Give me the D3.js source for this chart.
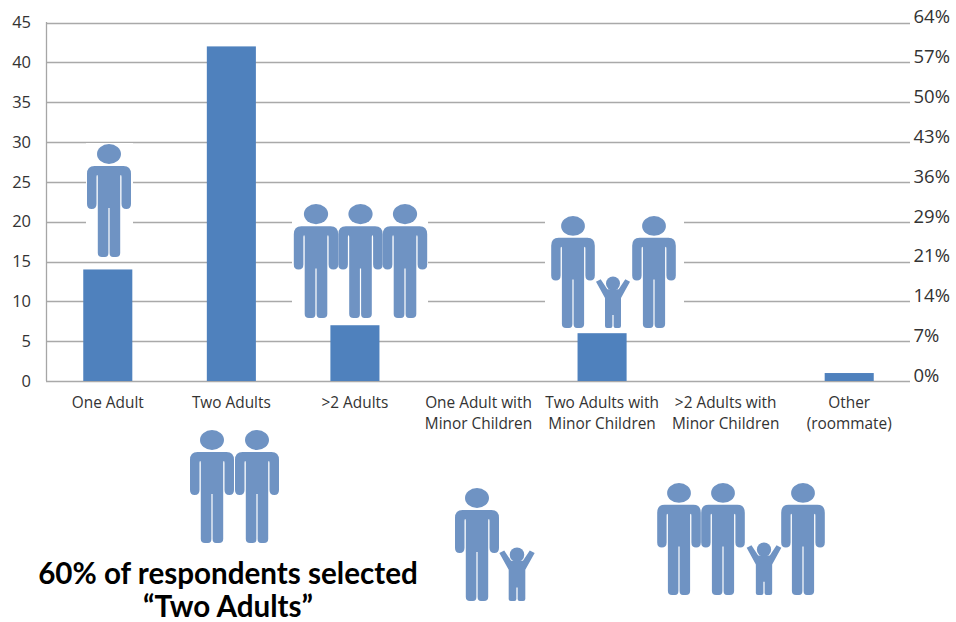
<!DOCTYPE html>
<html><head><meta charset="utf-8">
<script src="https://cdn.jsdelivr.net/npm/d3@7"></script>
<style>html,body{margin:0;padding:0;background:#fff}svg{display:block}</style>
</head><body><svg id="c" width="956" height="622"></svg>
<script>
const categories = ["One Adult","Two Adults",">2 Adults","One Adult with\nMinor Children","Two Adults with\nMinor Children",">2 Adults with\nMinor Children","Other\n(roommate)"];
const counts = [14,42,7,0,6,0,1];
const countTicks = [0,5,10,15,20,25,30,35,40,45];
const pctLabels = ["0%","7%","14%","21%","29%","36%","43%","50%","57%","64%"];
const headline = ["60% of respondents selected","“Two Adults”"];

const svg = d3.select("#c");
const x = d3.scaleBand().domain(categories).range([46,911]).paddingInner(0.603).paddingOuter(0.3015);
const y = d3.scaleLinear().domain([0,45]).range([381,22.5]);

// grid
svg.append("g").selectAll("line").data(countTicks).join("line")
  .attr("x1",46).attr("x2",910).attr("y1",d=>Math.round(y(d))+.5).attr("y2",d=>Math.round(y(d))+.5)
  .attr("stroke","#a9a9a9").attr("stroke-width",1.3);
svg.append("line").attr("x1",46.5).attr("x2",46.5).attr("y1",22).attr("y2",381).attr("stroke","#a6a6a6").attr("stroke-width",1.3);

// left axis
const gl = svg.append("g").attr("transform","translate(46,0)").call(d3.axisLeft(y).tickValues(countTicks).tickSize(0).tickPadding(15));
gl.select(".domain").remove();
gl.selectAll("text").attr("font-family","'Open Sans',sans-serif").attr("font-size",16.5).attr("fill","#333");

// right axis
const gr = svg.append("g").attr("transform","translate(913.5,-5.5)").call(d3.axisRight(y).tickValues(countTicks).tickSize(0).tickPadding(0).tickFormat((d,i)=>pctLabels[i]));
gr.select(".domain").remove();
gr.selectAll("text").attr("font-family","'Open Sans',sans-serif").attr("font-size",18.5).attr("fill","#333");

// bars
svg.append("g").selectAll("rect").data(categories).join("rect")
  .attr("x",d=>x(d)).attr("width",x.bandwidth())
  .attr("y",(d,i)=>y(counts[i])).attr("height",(d,i)=>y(0)-y(counts[i]))
  .attr("fill","#4f81bd");

// category labels
const cat = svg.append("g").selectAll("text").data(categories).join("text")
  .attr("text-anchor","middle").attr("font-family","'Open Sans',sans-serif").attr("font-size",15.4).attr("fill","#333");
cat.each(function(d){
  const t = d3.select(this);
  d.split("\n").forEach((s,i)=>t.append("tspan").attr("x",x(d)+x.bandwidth()/2).attr("y",408+i*21).text(s));
});

// pictograms (unit shapes, placed by scale)
const adultPath = "M-14.5,22 H14.5 Q22,22 22,30 V60 Q22,65 17.3,65 Q12.5,65 12.5,60 V33 Q12.5,31 11.8,31 Q11.2,31 11.2,33 V109 Q11.2,113 7,113 H4 Q.6,113 .6,109 V64 H-.6 V109 Q-.6,113 -4,113 H-7 Q-11.2,113 -11.2,109 V33 Q-11.2,31 -11.8,31 Q-12.5,31 -12.5,33 V60 Q-12.5,65 -17.3,65 Q-22,65 -22,60 V30 Q-22,22 -14.5,22 Z";
const childPath = "M-12.3,2.3 L-17,4.7 L-8,21 V49 Q-8,51 -6,51 H-2.5 Q-.6,51 -.6,49 V38 H.6 V49 Q.6,51 2.5,51 H6 Q8,51 8,49 V21 L17,4.7 L12.3,2.3 L5.7,12.3 H-5.7 Z";
const picColor = "#6f93c3";
const pics = svg.append("g");
function adult(cx,top,bottom){
  const k=(bottom-top)/113;
  const g=pics.append("g").attr("transform",`translate(${cx},${top}) scale(${k})`).attr("fill",picColor);
  g.append("ellipse").attr("cx",0).attr("cy",10).attr("rx",12).attr("ry",10);
  g.append("path").attr("d",adultPath);
}
function child(cx,top,bottom){
  const k=(bottom-top)/51;
  const g=pics.append("g").attr("transform",`translate(${cx},${top}) scale(${k})`).attr("fill",picColor);
  g.append("circle").attr("cx",0).attr("cy",6.5).attr("r",7);
  g.append("path").attr("d",childPath);
}
function mask(x0,y0,x1,y1){pics.append("rect").attr("x",x0).attr("y",y0).attr("width",x1-x0).attr("height",y1-y0).attr("fill","#fff");}

mask(86,143,133,259); adult(109,144,257);
mask(292,200,428,320); [316,360.5,405].forEach(c=>adult(c,204,318));
mask(545,215,684,331); adult(573,216,328); adult(654,216,328); child(613,277,328);
adult(212,430,543); adult(257,430,543);
adult(477,488,601); child(517,548,601);
adult(679,483,595); adult(723,483,595); adult(803,483,595); child(764,543,595);

// headline
svg.append("g").selectAll("text").data(headline).join("text")
  .attr("x",228).attr("y",(d,i)=>584+i*33).attr("text-anchor","middle")
  .attr("font-family","Lato,'Open Sans',sans-serif").attr("font-weight",700).attr("font-size",29.6).attr("fill","#000")
  .text(d=>d);
</script></body></html>
